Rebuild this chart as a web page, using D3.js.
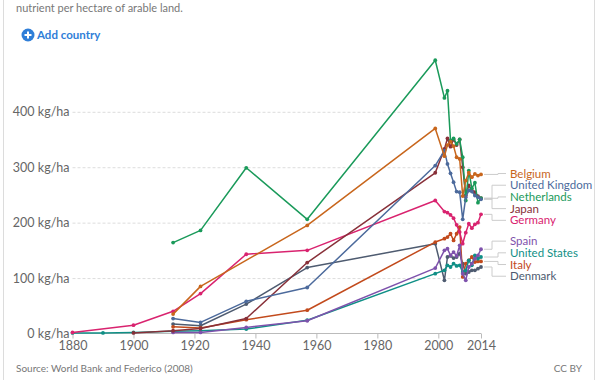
<!DOCTYPE html>
<html>
<head>
<meta charset="utf-8">
<script src="https://cdn.jsdelivr.net/npm/d3@7"></script>
<style>
  html, body { margin: 0; padding: 0; background: #fff; }
  svg { display: block; font-family: Lato, "Open Sans", sans-serif; }
</style>
</head>
<body>
<svg id="chart" width="600" height="380"></svg>
<script>
// ---------- data ----------
const years = [1880, 1890, 1900, 1913, 1922, 1937, 1957, 1999,
  2002, 2003, 2004, 2005, 2006, 2007, 2008, 2009, 2010, 2011, 2012, 2013, 2014];

const belgium       = [null, null, null, 35, 85, null, 195, 370, 320, 340, 346, 338, 318, 315, 248, 276, 290, 282, 288, 285, 287];
const unitedKingdom = [null, null, null, 27, 20, 58, 83, 303, 330, 306, 289, 273, 256, 255, 206, 246, 258, 256, 249, 246, 242];
const netherlands   = [null, null, null, 164, 186, 299, 206, 493, 425, 438, 348, 352, 342, 350, 318, 240, 294, 262, 272, 236, 244];
const japan         = [null, null, 1, 5, 9, 27, 128, 290, 333, 352, 337, 350, 340, 350, 300, 249, 267, 258, 255, 248, 244];
const germany       = [2, null, 15, 40, 72, 143, 150, 240, 220, 218, 214, 208, 196, 183, 162, 182, 198, 190, 197, 200, 215];
const spain         = [null, null, null, 2, 2, 11, 23, 118, 150, 153, 141, 147, 140, 159, 108, 96, 120, 126, 135, 141, 152];
const unitedStates  = [1, 1, 2, 4, 5, 8, 24, 108, 114, 123, 120, 126, 122, 123, 111, 114, 132, 123, 141, 135, 138];
const italy         = [null, null, null, 12, 10, 25, 42, 165, 171, 174, 180, 168, 180, 192, 102, 126, 132, 138, 129, 130, 130];
const denmark       = [null, null, null, 17, 14, 53, 119, 162, 96, 138, 140, 136, 138, 144, 126, 108, 111, 114, 114, 117, 120];

const countries = ["Belgium", "United Kingdom", "Netherlands", "Japan", "Germany",
                   "Spain", "United States", "Italy", "Denmark"];
const seriesValues = [belgium, unitedKingdom, netherlands, japan, germany,
                      spain, unitedStates, italy, denmark];
const colors = ["#C8661C", "#4C6A9C", "#1A9A5A", "#883039", "#D9236F",
                "#7E52AC", "#0F8F86", "#C24A1C", "#4E5B70"];

const yTicks = [0, 100, 200, 300, 400];
const xTicks = [1880, 1900, 1920, 1940, 1960, 1980, 2000, 2014];

// ---------- layout ----------
const svg = d3.select("#chart");
const x = d3.scaleLinear().domain([1880, 2014]).range([72.5, 481]);
const y = d3.scaleLinear().domain([0, 400]).range([333.5, 111.8]);

// frame
svg.append("rect").attr("x", 3.5).attr("y", -10).attr("width", 591).attr("height", 400)
  .attr("fill", "#fff").attr("stroke", "#dcdcdc");

// subtitle
svg.append("text").attr("x", 16).attr("y", 12).attr("font-size", 11).attr("fill", "#777")
  .text("nutrient per hectare of arable land.");

// Add country button
const btn = svg.append("g").attr("transform", "translate(28,35)");
btn.append("circle").attr("r", 6.5).attr("fill", "#2F7ED8");
btn.append("path").attr("d", "M-3.5,0H3.5M0,-3.5V3.5").attr("stroke", "#fff").attr("stroke-width", 2);
svg.append("text").attr("x", 37).attr("y", 39).attr("font-size", 11.5).attr("font-weight", 700)
  .attr("fill", "#2F7ED8").text("Add country");

// grid + y labels
const yAxis = d3.axisLeft(y).tickValues(yTicks).tickSize(-(481 - 72.5))
  .tickFormat(d => d + " kg/ha").tickPadding(3);
const gy = svg.append("g").attr("transform", "translate(72.5,0)").call(yAxis);
gy.select(".domain").remove();
gy.selectAll(".tick line").attr("stroke", "#ddd").attr("stroke-dasharray", "3,2")
  .filter(d => d === 0).remove();
gy.selectAll(".tick text").attr("font-size", 12.5).attr("fill", "#666")
  .attr("font-family", "Lato, sans-serif");

// x axis
const xAxis = d3.axisBottom(x).tickValues(xTicks).tickFormat(d3.format("d")).tickSize(5).tickPadding(3);
const gx = svg.append("g").attr("transform", "translate(0,333.5)").call(xAxis);
gx.select(".domain").attr("stroke", "#bbb").attr("d", `M${x(1880)},0H${x(2014)}`);
gx.selectAll(".tick line").attr("stroke", "#bbb");
gx.selectAll(".tick text").attr("font-size", 12.5).attr("fill", "#666")
  .attr("font-family", "Lato, sans-serif");

// lines
const series = countries.map((name, i) => ({
  name, color: colors[i],
  points: years.map((yr, j) => ({ year: yr, value: seriesValues[i][j] })).filter(p => p.value !== null)
}));

const line = d3.line().x(d => x(d.year)).y(d => y(d.value));
const lg = svg.append("g");
series.slice().reverse().forEach(s => {
  lg.append("path").attr("d", line(s.points)).attr("fill", "none")
    .attr("stroke", s.color).attr("stroke-width", 1.5).attr("stroke-linejoin", "round");
  lg.selectAll(null).data(s.points).enter().append("circle")
    .attr("cx", d => x(d.year)).attr("cy", d => y(d.value)).attr("r", 1.9).attr("fill", s.color);
});

// end labels with simple collision resolution (cluster centering)
const gap = 11.7;
const labels = series.map(s => ({ s, target: y(s.points[s.points.length - 1].value) }));
let clusters = labels.map(l => ({ items: [l] }));
function layout(c) {
  const n = c.items.length;
  const mean = d3.mean(c.items, d => d.target);
  c.top = mean - (n - 1) * gap / 2;
  c.items.forEach((it, k) => it.pos = c.top + k * gap);
  c.bottom = c.top + (n - 1) * gap;
}
clusters.forEach(layout);
let merged = true;
while (merged) {
  merged = false;
  for (let i = 0; i < clusters.length - 1; i++) {
    if (clusters[i + 1].top - clusters[i].bottom < gap) {
      clusters[i].items = clusters[i].items.concat(clusters[i + 1].items);
      clusters.splice(i + 1, 1);
      layout(clusters[i]);
      merged = true;
      break;
    }
  }
}
const lab = svg.append("g");
labels.forEach(l => {
  const endY = l.target, ly = l.pos;
  const vx = Math.abs(ly - endY) > 5 ? 492 : 498;
  lab.append("path")
    .attr("d", `M484,${endY}H${vx}V${ly}H506`)
    .attr("fill", "none").attr("stroke", "#ccc").attr("stroke-width", 1);
  lab.append("text").attr("x", 510).attr("y", ly).attr("dy", "0.35em")
    .attr("font-size", 11.5).attr("fill", l.s.color).text(l.s.name);
});

// footer
svg.append("text").attr("x", 16).attr("y", 372).attr("font-size", 10).attr("fill", "#777")
  .text("Source: World Bank and Federico (2008)");
svg.append("text").attr("x", 582).attr("y", 372).attr("font-size", 10).attr("fill", "#777")
  .attr("text-anchor", "end").text("CC BY");
</script>
</body>
</html>
